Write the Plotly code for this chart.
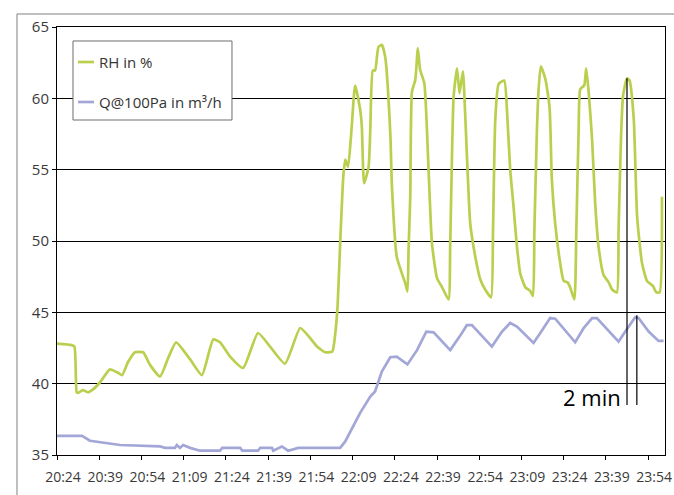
import plotly.graph_objects as go

# time axis: minutes after 20:24
tick_minutes = [0, 15, 30, 45, 60, 75, 90, 105, 120, 135, 150, 165, 180, 195, 210]
tick_labels = ["20:24", "20:39", "20:54", "21:09", "21:24", "21:39", "21:54", "22:09",
               "22:24", "22:39", "22:54", "23:09", "23:24", "23:39", "23:54"]
y_ticks = [35, 40, 45, 50, 55, 60, 65]

rh_t = [0, 5.2, 6.2, 7.0, 7.5, 9.2, 11.0, 12.8, 15.3, 18.8, 21.3, 23.1, 25.2, 27.7, 30.6,
        33.1, 36.6, 39.5, 42.3, 47.3, 51.5, 55.5, 57.9, 61.5, 66.1, 71.4, 75.7, 81.0,
        86.4, 89.9, 92.4, 95.3, 97.8, 98.8, 99.7, 100.6, 101.7, 102.4, 103.4, 104.7,
        105.9, 107.7, 108.3, 109.1, 110.7, 111.3, 112.2, 113.0, 114.2, 115.4, 116.6,
        118.4, 119.0, 120.7, 122.5, 123.7, 124.5, 124.9, 125.5, 126.1, 127.3, 128.2,
        129.0, 130.5, 132.0, 133.2, 135.0, 136.7, 139.1, 139.7, 140.9, 142.1, 143.0,
        144.2, 145.0, 146.8, 148.6, 150.4, 152.1, 154.2, 154.9, 155.7, 156.9, 158.9,
        159.9, 161.0, 162.2, 163.4, 164.6, 166.4, 168.1, 169.1, 169.6, 170.5, 171.1,
        171.9, 173.5, 175.0, 175.8, 177.0, 178.8, 180.0, 181.4, 182.3, 183.8, 184.5,
        185.3, 185.9, 187.3, 188.0, 188.9, 190.1, 191.2, 192.4, 194.2, 196.0, 197.2,
        198.9, 199.5, 200.4, 201.1, 202.5, 203.4, 204.9, 206.1, 207.8, 209.6, 211.7,
        212.9, 214.1, 214.9]
rh_v = [42.8, 42.7, 42.6, 39.4, 39.35, 39.55, 39.4, 39.6, 40.1, 41.0, 40.8, 40.6, 41.5,
        42.2, 42.2, 41.3, 40.5, 41.8, 42.9, 41.7, 40.6, 43.1, 42.9, 41.9, 41.1, 43.55,
        42.6, 41.4, 43.9, 43.2, 42.6, 42.2, 42.25, 43.4, 45.5, 49.85, 54.5, 55.7, 55.2,
        58.0, 60.9, 59.2, 58.0, 54.05, 55.2, 57.8, 61.95, 61.95, 63.6, 63.75, 62.9, 57.6,
        53.8, 48.9, 47.75, 47.05, 46.45, 49.4, 53.1, 60.45, 61.3, 63.5, 62.0, 61.05, 55.0,
        49.85, 47.4, 46.8, 45.9, 49.85, 60.1, 62.1, 60.35, 61.9, 58.95, 51.25, 48.9, 47.3,
        46.6, 46.05, 50.75, 58.5, 61.0, 61.25, 59.0, 55.0, 52.4, 49.6, 47.7, 46.75, 46.5,
        46.15, 50.75, 57.8, 60.65, 62.25, 61.35, 59.35, 54.3, 51.2, 48.4, 47.2, 47.1,
        46.75, 45.9, 50.75, 57.6, 60.65, 60.9, 62.1, 60.4, 57.1, 52.65, 49.6, 47.6, 47.1,
        46.6, 46.4, 50.75, 57.4, 60.2, 61.4, 61.25, 58.55, 51.7, 48.5, 47.2, 46.85, 46.4,
        46.4, 53.1]

q_t = [0, 8.9, 11.7, 17.8, 22.4, 36.6, 38.4, 41.9, 42.6, 43.7, 44.8, 47.3, 50.8, 57.9,
       58.7, 65.1, 65.8, 71.4, 72.2, 76.4, 76.8, 79.9, 82.1, 85.7, 99.5, 100.6, 102.4,
       104.8, 107.7, 111.3, 113.0, 115.4, 118.4, 120.7, 124.5, 127.9, 131.2, 133.8,
       139.7, 143.2, 145.6, 147.4, 154.5, 158.1, 161.0, 163.4, 169.3, 171.7, 175.2,
       177.0, 184.1, 187.1, 190.1, 191.8, 199.5, 201.9, 205.4, 206.6, 210.2, 213.7,
       215.5]
q_v = [36.34, 36.34, 36.0, 35.8, 35.7, 35.6, 35.5, 35.5, 35.7, 35.5, 35.7, 35.5, 35.3,
       35.3, 35.5, 35.5, 35.3, 35.3, 35.5, 35.5, 35.3, 35.6, 35.3, 35.5, 35.5, 35.5,
       35.95, 36.9, 37.95, 39.1, 39.45, 40.85, 41.85, 41.9, 41.35, 42.35, 43.65, 43.6,
       42.35, 43.35, 44.1, 44.1, 42.6, 43.65, 44.25, 44.0, 42.85, 43.55, 44.6, 44.55,
       42.9, 43.9, 44.6, 44.6, 42.95, 43.65, 44.65, 44.6, 43.65, 43.0, 43.0]

series_names = ["RH in %", "Q@100Pa in m³/h"]
rh_color = "#b9d04e"
q_color = "#a3a7d7"

# annotation "2 min"
mark_t = [202.5, 206.0]
mark_top = [61.4, 44.8]
mark_bottom = 38.5
mark_text = "2 min"

fig = go.Figure()
fig.add_trace(go.Scatter(x=rh_t, y=rh_v, mode="lines", name=series_names[0],
                         line=dict(color=rh_color, width=2.7, shape="spline", smoothing=0.5),
                         showlegend=False))
fig.add_trace(go.Scatter(x=q_t, y=q_v, mode="lines", name=series_names[1],
                         line=dict(color=q_color, width=2.7), showlegend=False))

for t, top in zip(mark_t, mark_top):
    fig.add_shape(type="line", xref="x", yref="y", x0=t, x1=t, y0=mark_bottom, y1=top,
                  line=dict(color="black", width=1.2))
fig.add_annotation(x=mark_t[0] - 1.6, y=39.07, xref="x", yref="y", text=mark_text,
                   showarrow=False, xanchor="right", yanchor="middle",
                   font=dict(size=22, color="black", family="Open Sans"))

# outer chart border
fig.add_shape(type="rect", xref="paper", yref="paper", x0=-0.0658, x1=1.3, y0=-0.4, y1=1.0304,
              line=dict(color="#808080", width=1), fillcolor="rgba(0,0,0,0)", layer="below")

# legend box (manual)
fig.add_shape(type="rect", xref="paper", yref="paper", x0=0.0263, x1=0.2878, y0=0.7827, y1=0.9673,
              line=dict(color="#6e6e6e", width=1), fillcolor="white", layer="above")
leg_y = [0.9182, 0.8248]
for name, col, yy in zip(series_names, [rh_color, q_color], leg_y):
    fig.add_shape(type="line", xref="paper", yref="paper", x0=0.0345, x1=0.0609, y0=yy, y1=yy,
                  line=dict(color=col, width=2.7), layer="above")
    fig.add_annotation(x=0.0658, y=yy, xref="paper", yref="paper", text=name, showarrow=False,
                       xanchor="left", yanchor="middle",
                       font=dict(size=15, color="#333333", family="Open Sans"))

fig.update_layout(
    width=674, height=495,
    margin=dict(l=57, r=9, t=27, b=40, autoexpand=False),
    paper_bgcolor="white", plot_bgcolor="white",
    font=dict(family="Open Sans", color="#3a3a3a"),
    showlegend=False,
)
fig.update_xaxes(range=[0, 216], tickmode="array", tickvals=tick_minutes, ticktext=tick_labels,
                 showgrid=False, zeroline=False, showline=True, linecolor="black", linewidth=1,
                 mirror=True, ticks="outside", ticklen=4, tickcolor="black", automargin=False,
                 tickfont=dict(size=14, color="#3a3a3a"), ticklabelshift=6,
                 ticklabelstandoff=5)
fig.update_yaxes(range=[35, 65], tickmode="array", tickvals=y_ticks,
                 showgrid=True, gridcolor="black", gridwidth=1, zeroline=False,
                 showline=True, linecolor="black", linewidth=1, mirror=True,
                 ticks="outside", ticklen=4, tickcolor="black", automargin=False,
                 tickfont=dict(size=15, color="#3a3a3a"))

fig.write_html("out.html")
